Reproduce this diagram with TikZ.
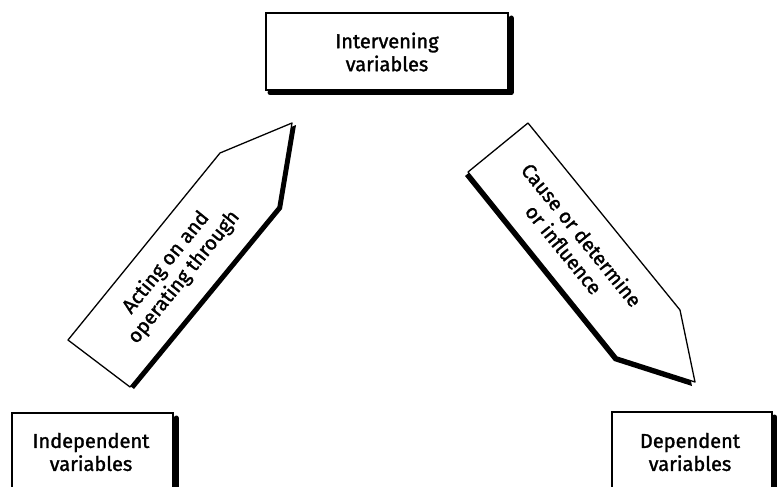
\documentclass[tikz,border=0pt]{standalone}
\usepackage{fontspec}
\setmainfont{Fira Sans}[UprightFeatures={FakeBold=1.5}]
\begin{document}
\begin{tikzpicture}[x=1pt,y=-1pt,
  boxshape/.style={draw=black,line width=1.3pt,fill=white},
  shadowshape/.style={fill=black},
  shadowline/.style={draw=black,line width=5pt,line cap=round,line join=round},
  lbl/.style={font=\fontsize{20}{23}\selectfont,align=center,inner sep=0pt}]
\useasboundingbox (0,0) rectangle (777,487);
\clip (0,0) rectangle (777,487);
% top box
\coordinate (t1) at (266,13);
\coordinate (t2) at (508,90);
\draw[shadowline] (511,18) -- (511,92.5) -- (270,92.5);
\draw[boxshape] (t1) rectangle (t2);
\node[lbl] (interv) at (387,52) {Intervening\\variables};
% bottom-left box
\draw[shadowline] (176,418) -- (176,500);
\draw[boxshape] (12,413) rectangle (173,500);
\node[lbl] (indep) at (91,452) {Independent\\variables};
% bottom-right box
\draw[shadowline] (774.5,417) -- (774.5,500);
\draw[boxshape] (612,412) rectangle (772,500);
\node[lbl] (dep) at (690,452) {Dependent\\variables};
% left arrow
\coordinate (la1) at (68,340);
\coordinate (la2) at (220,153);
\coordinate (la3) at (292,123);
\coordinate (la4) at (278,207);
\coordinate (la5) at (130,387);
\fill[shadowshape] ([shift={(4,2)}]la1) -- ([shift={(4,2)}]la2) -- ([shift={(4,2)}]la3) -- ([shift={(4,2)}]la4) -- ([shift={(4,2)}]la5) -- cycle;
\draw[boxshape,line join=round] (la1) -- (la2) -- (la3) -- (la4) -- (la5) -- cycle;
\node[lbl,rotate=51] (acting) at (175,270) {Acting on and\\operating through};
% right arrow
\coordinate (ra1) at (528,123);
\coordinate (ra2) at (680,310);
\coordinate (ra3) at (695,382);
\coordinate (ra4) at (617,357);
\coordinate (ra5) at (468,172);
\fill[shadowshape] ([shift={(-3,4)}]ra1) -- ([shift={(-3,4)}]ra2) -- ([shift={(-3,4)}]ra3) -- ([shift={(-3,4)}]ra4) -- ([shift={(-3,4)}]ra5) -- cycle;
\draw[boxshape,line join=round] (ra1) -- (ra2) -- (ra3) -- (ra4) -- (ra5) -- cycle;
\node[lbl,rotate=-51] (cause) at (573,242) {Cause or determine\\or influence};
\end{tikzpicture}
\end{document}
